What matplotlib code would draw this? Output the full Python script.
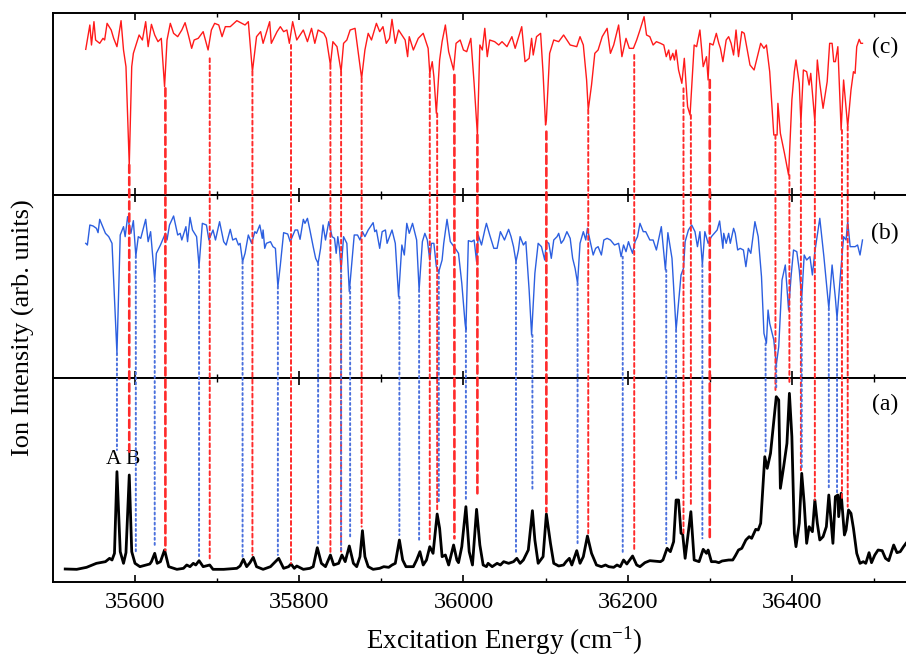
import numpy as np
import matplotlib
matplotlib.use("Agg")
import matplotlib.pyplot as plt
from matplotlib.patches import ConnectionPatch

plt.rcParams['font.family'] = ['Liberation Serif', 'DejaVu Serif']
plt.rcParams['mathtext.fontset'] = 'custom'
plt.rcParams['mathtext.rm'] = 'Liberation Serif'
plt.rcParams['mathtext.it'] = 'Liberation Serif:italic'

# ---------------- data: trace (c), red ----------------
c_energy = [35540, 35545, 35547, 35550, 35552, 35557, 35561, 35563, 35566, 35571, 35574, 35578, 35583, 35586, 35589,
            35593, 35596, 35598, 35605, 35609, 35613, 35616, 35620, 35624, 35628, 35632, 35636, 35639, 35643, 35647,
            35652, 35657, 35661, 35665, 35669, 35672, 35677, 35683, 35689, 35693, 35697, 35702, 35706, 35710, 35716,
            35724, 35730, 35734, 35738, 35743, 35748, 35753, 35756, 35764, 35766, 35773, 35777, 35781, 35785, 35788,
            35792, 35797, 35805, 35810, 35815, 35819, 35823, 35830, 35833, 35838, 35841, 35846, 35851, 35854, 35858,
            35862, 35868, 35876, 35880, 35884, 35888, 35894, 35898, 35902, 35906, 35910, 35913, 35917, 35921, 35929,
            35932, 35934, 35939, 35945, 35951, 35957, 35959, 35962, 35964, 35967, 35971, 35974, 35978, 35982, 35988,
            35991, 35996, 36000, 36004, 36009, 36013, 36017, 36020, 36023, 36026, 36029, 36032, 36038, 36043, 36047,
            36053, 36059, 36063, 36071, 36075, 36080, 36083, 36085, 36089, 36094, 36097, 36100, 36101, 36105, 36110,
            36116, 36122, 36130, 36138, 36142, 36146, 36150, 36152, 36156, 36160, 36164, 36169, 36175, 36179, 36183,
            36189, 36193, 36198, 36202, 36207, 36211, 36215, 36220, 36223, 36227, 36231, 36235, 36240, 36244, 36247,
            36250, 36252, 36255, 36257, 36259, 36262, 36266, 36269, 36273, 36276, 36281, 36284, 36288, 36292, 36296,
            36298, 36300, 36304, 36308, 36311, 36313, 36316, 36320, 36323, 36326, 36329, 36332, 36335, 36339, 36342,
            36349, 36354, 36357, 36362, 36366, 36369, 36373, 36378, 36382, 36383, 36386, 36391, 36396, 36400, 36403,
            36405, 36409, 36411, 36414, 36418, 36421, 36423, 36428, 36431, 36434, 36438, 36443, 36446, 36449, 36451,
            36453, 36456, 36460, 36463, 36468, 36472, 36475, 36477, 36479, 36482, 36484, 36486]
c_signal = [437, 510, 450, 520, 465, 455, 470, 465, 515, 495, 470, 445, 523, 435, 385,
            90, 385, 425, 480, 465, 520, 445, 512, 480, 460, 470, 325, 465, 515, 485,
            475, 495, 517, 480, 440, 465, 470, 490, 435, 495, 515, 510, 475, 505, 505,
            523, 515, 510, 520, 370, 475, 490, 455, 520, 455, 490, 505, 490, 495, 455,
            520, 465, 495, 460, 500, 455, 495, 485, 470, 390, 460, 445, 370, 455, 465,
            495, 500, 350, 435, 485, 465, 515, 490, 505, 455, 470, 527, 455, 495, 465,
            415, 475, 435, 470, 485, 440, 365, 400, 355, 245, 405, 460, 510, 430, 375,
            455, 465, 435, 430, 470, 335, 180, 450, 435, 500, 415, 465, 460, 450, 460,
            445, 475, 440, 505, 400, 410, 470, 420, 475, 485, 365, 210, 225, 425, 465,
            460, 480, 450, 445, 475, 450, 345, 255, 330, 425, 435, 475, 500, 425, 450,
            510, 415, 470, 440, 440, 465, 495, 535, 480, 475, 450, 460, 455, 450, 415,
            435, 405, 425, 405, 435, 375, 335, 410, 265, 240, 450, 445, 495, 385, 415,
            345, 455, 450, 485, 455, 440, 400, 465, 475, 455, 420, 495, 415, 490, 485,
            390, 375, 405, 455, 440, 450, 370, 180, 180, 275, 185, 125, 60, 285, 370,
            405, 335, 215, 375, 370, 330, 365, 220, 405, 335, 260, 340, 455, 455, 400,
            400, 445, 195, 345, 205, 315, 370, 365, 445, 467, 455, 455]

# ---------------- data: trace (b), blue ----------------
b_energy = [35540, 35542, 35545, 35549, 35553, 35555, 35557, 35564, 35568, 35572, 35578, 35582, 35586, 35588, 35591,
            35595, 35598, 35601, 35604, 35607, 35613, 35616, 35619, 35624, 35626, 35631, 35637, 35639, 35642, 35647,
            35652, 35655, 35657, 35662, 35664, 35667, 35670, 35675, 35678, 35682, 35687, 35690, 35695, 35698, 35703,
            35708, 35711, 35716, 35719, 35723, 35726, 35728, 35731, 35734, 35738, 35742, 35746, 35748, 35752, 35755,
            35756, 35758, 35760, 35765, 35768, 35771, 35774, 35777, 35781, 35786, 35789, 35795, 35798, 35801, 35805,
            35807, 35810, 35813, 35817, 35820, 35823, 35826, 35829, 35832, 35836, 35840, 35843, 35845, 35847, 35849,
            35851, 35854, 35858, 35861, 35867, 35871, 35874, 35877, 35880, 35884, 35890, 35892, 35894, 35898, 35901,
            35905, 35907, 35913, 35917, 35921, 35925, 35928, 35931, 35934, 35938, 35943, 35946, 35950, 35953, 35956,
            35959, 35961, 35964, 35967, 35970, 35974, 35976, 35980, 35984, 35990, 35994, 35998, 36002, 36003, 36006,
            36010, 36013, 36016, 36018, 36022, 36026, 36028, 36032, 36037, 36041, 36045, 36050, 36055, 36058, 36061,
            36064, 36067, 36069, 36073, 36076, 36080, 36083, 36087, 36091, 36095, 36099, 36101, 36104, 36107, 36110,
            36114, 36116, 36119, 36122, 36126, 36130, 36133, 36136, 36139, 36142, 36146, 36149, 36151, 36154, 36158,
            36161, 36164, 36168, 36171, 36175, 36179, 36184, 36189, 36192, 36195, 36198, 36201, 36203, 36206, 36209,
            36212, 36215, 36219, 36222, 36227, 36231, 36235, 36241, 36246, 36249, 36254, 36259, 36265, 36268, 36270,
            36274, 36278, 36282, 36285, 36288, 36291, 36294, 36298, 36302, 36309, 36312, 36316, 36317, 36320, 36323,
            36325, 36329, 36331, 36334, 36337, 36341, 36344, 36347, 36350, 36355, 36359, 36363, 36366, 36369, 36371,
            36373, 36378, 36381, 36384, 36388, 36392, 36396, 36399, 36402, 36406, 36409, 36412, 36415, 36418, 36422,
            36425, 36428, 36434, 36439, 36445, 36449, 36453, 36455, 36459, 36463, 36466, 36468, 36471, 36477, 36480,
            36483, 36486]
b_signal = [404, 399, 459, 456, 449, 436, 476, 434, 424, 404, 74, 429, 454, 424, 484,
            434, 472, 366, 424, 419, 476, 409, 439, 294, 374, 399, 434, 414, 459, 486,
            429, 434, 414, 454, 409, 482, 444, 424, 336, 464, 459, 414, 444, 414, 469,
            409, 399, 446, 414, 419, 399, 404, 349, 374, 429, 404, 439, 434, 459, 419,
            444, 389, 404, 409, 394, 389, 274, 339, 436, 432, 409, 444, 444, 416, 476,
            464, 479, 444, 394, 359, 344, 389, 459, 414, 469, 424, 419, 374, 424, 389,
            324, 424, 404, 259, 429, 429, 414, 439, 424, 444, 466, 439, 444, 389, 439,
            444, 404, 444, 404, 244, 399, 369, 464, 434, 464, 414, 264, 409, 434, 414,
            354, 404, 404, 334, 319, 354, 404, 476, 409, 389, 374, 284, 164, 144, 412,
            409, 414, 349, 429, 399, 444, 464, 429, 389, 389, 439, 414, 446, 424, 394,
            349, 384, 424, 399, 409, 264, 129, 314, 404, 394, 354, 409, 404, 359, 414,
            424, 434, 404, 414, 439, 419, 359, 329, 284, 404, 439, 414, 449, 414, 369,
            389, 394, 369, 414, 419, 414, 399, 404, 364, 399, 379, 409, 394, 374, 409,
            424, 464, 439, 439, 414, 414, 384, 454, 324, 436, 359, 144, 309, 329, 409,
            444, 459, 439, 394, 439, 339, 439, 404, 424, 444, 471, 389, 434, 404, 434,
            404, 449, 434, 384, 389, 384, 334, 389, 374, 469, 424, 304, 134, 104, 204,
            164, 114, 39, 94, 294, 339, 204, 304, 384, 379, 324, 239, 369, 354, 364,
            309, 379, 479, 364, 209, 339, 239, 179, 304, 424, 414, 469, 394, 394, 399,
            369, 414]

# ---------------- data: trace (a), black ----------------
a_energy = [35515, 35529, 35541, 35553, 35564, 35569, 35572, 35575, 35578, 35582, 35586, 35589, 35593, 35596, 35600,
            35606, 35618, 35620, 35624, 35627, 35631, 35636, 35641, 35651, 35659, 35663, 35667, 35671, 35674, 35678,
            35683, 35691, 35695, 35708, 35724, 35728, 35732, 35736, 35740, 35744, 35748, 35756, 35765, 35769, 35775,
            35781, 35787, 35790, 35794, 35797, 35805, 35813, 35817, 35822, 35827, 35832, 35838, 35842, 35848, 35852,
            35856, 35861, 35866, 35870, 35874, 35877, 35880, 35884, 35890, 35898, 35903, 35909, 35913, 35917, 35922,
            35926, 35930, 35939, 35943, 35947, 35951, 35955, 35959, 35963, 35968, 35971, 35974, 35978, 35982, 35988,
            35992, 35994, 35998, 36003, 36007, 36011, 36016, 36020, 36024, 36028, 36030, 36035, 36041, 36045, 36049,
            36055, 36061, 36065, 36069, 36073, 36079, 36084, 36087, 36091, 36097, 36101, 36106, 36110, 36116, 36122,
            36125, 36129, 36132, 36138, 36142, 36146, 36151, 36156, 36162, 36168, 36173, 36177, 36183, 36187, 36191,
            36195, 36199, 36206, 36211, 36215, 36221, 36227, 36240, 36243, 36248, 36252, 36256, 36259, 36262, 36265,
            36267, 36270, 36277, 36281, 36287, 36292, 36296, 36298, 36302, 36307, 36311, 36315, 36323, 36328, 36331,
            36335, 36339, 36344, 36348, 36351, 36356, 36359, 36362, 36367, 36370, 36374, 36381, 36384, 36386, 36390,
            36394, 36397, 36400, 36403, 36405, 36409, 36412, 36415, 36418, 36421, 36425, 36428, 36431, 36434, 36438,
            36442, 36445, 36450, 36453, 36456, 36457, 36460, 36464, 36466, 36469, 36472, 36475, 36479, 36483, 36487,
            36490, 36494, 36497, 36501, 36505, 36510, 36514, 36518, 36524, 36528, 36532, 36536, 36539]
a_signal = [39, 38, 44, 56, 61, 71, 66, 86, 331, 91, 56, 88, 321, 91, 56,
            46, 54, 61, 86, 56, 61, 96, 46, 38, 41, 51, 46, 56, 51, 64,
            46, 51, 38, 38, 41, 48, 68, 46, 58, 74, 46, 38, 46, 56, 71,
            41, 46, 54, 41, 48, 38, 41, 46, 103, 56, 46, 81, 51, 56, 81,
            61, 108, 56, 46, 76, 154, 76, 46, 38, 41, 46, 44, 51, 56, 126,
            66, 46, 46, 66, 91, 51, 66, 106, 86, 204, 161, 76, 81, 51, 111,
            66, 58, 106, 226, 91, 51, 218, 111, 51, 46, 56, 46, 56, 51, 61,
            56, 61, 71, 56, 66, 96, 214, 126, 56, 76, 204, 116, 56, 48, 51,
            61, 71, 51, 94, 56, 76, 138, 86, 51, 46, 51, 46, 44, 51, 46,
            66, 54, 78, 51, 46, 58, 64, 61, 66, 101, 91, 121, 246, 246, 146,
            144, 71, 211, 66, 61, 98, 86, 96, 61, 61, 58, 63, 66, 66, 78,
            96, 101, 126, 136, 131, 158, 156, 176, 376, 341, 386, 556, 546, 281, 346,
            416, 566, 436, 146, 106, 176, 326, 236, 116, 166, 151, 246, 176, 126, 136,
            166, 261, 116, 256, 261, 196, 266, 141, 156, 216, 206, 161, 86, 56, 61,
            56, 88, 58, 81, 96, 94, 71, 64, 111, 88, 91, 106, 116]

# ---------------- correlation lines ----------------
# red: dip in (c) -> peak in (a)
red_energy = [35593, 35637, 35691, 35743, 35790, 35838, 35851, 35876, 35959, 35968, 35989, 36017,
              36101, 36152, 36208, 36268, 36277, 36300, 36380, 36397, 36411, 36428, 36461, 36468]
red_top = [90, 320, 410, 370, 450, 390, 370, 350, 365, 245, 360, 180,
           190, 255, 420, 320, 240, 345, 180, 60, 215, 220, 195, 205]
red_bottom = [391, 96, 71, 81, 56, 90, 91, 166, 121, 216, 131, 266,
              211, 146, 96, 146, 231, 126, 576, 591, 326, 246, 246, 226]
red_bold = [1, 1, 0, 0, 0, 0, 0, 0, 0, 0, 1, 1,
            1, 0, 0, 0, 0, 1, 0, 0, 0, 0, 0, 0]

# blue: dip in (b) -> peak in (a)
blue_energy = [35578, 35601, 35624, 35678, 35731, 35774, 35823, 35851, 35862, 35922, 35946, 35970,
               36003, 36064, 36084, 36139, 36194, 36247, 36259, 36291, 36368, 36381, 36412, 36445, 36455]
blue_top = [74, 366, 294, 336, 349, 274, 344, 324, 274, 244, 264, 319,
            144, 349, 129, 284, 364, 324, 144, 339, 104, 39, 239, 209, 179]
blue_bottom = [396, 86, 111, 71, 76, 81, 116, 96, 136, 141, 121, 236,
               246, 86, 271, 116, 86, 116, 306, 131, 391, 576, 336, 276, 261]

panel_labels = ['(c)', '(b)', '(a)']
panel_label_y = [0.81, 0.79, 0.87]
peak_labels = ['A', 'B']
peak_label_energy = [35574, 35597]
peak_label_level = [338, 338]
x_ticks = [35600, 35800, 36000, 36200, 36400]

# ---------------- layout ----------------
W, H = 906, 656
fig = plt.figure(figsize=(W / 100, H / 100), dpi=100)
left = 52.9 / W
width = 1.0 - left
def box(top_px, bot_px):
    return [left, (H - bot_px) / H, width, (bot_px - top_px) / H]

ax_c = fig.add_axes(box(13, 195))
ax_b = fig.add_axes(box(195, 378))
ax_a = fig.add_axes(box(378, 582))

xlim = (35500, 36539)
ylims = {'c': (0, 546), 'b': (0, 549), 'a': (0, 612)}

for ax, key in ((ax_c, 'c'), (ax_b, 'b'), (ax_a, 'a')):
    ax.set_xlim(*xlim)
    ax.set_ylim(*ylims[key])
    ax.set_yticks([])
    ax.spines['right'].set_visible(False)
    for s in ('left', 'top', 'bottom'):
        ax.spines[s].set_linewidth(1.4)
    ax.set_xticks(x_ticks)
    ax.set_xticks([t + 100 for t in [35500] + x_ticks], minor=True)
    ax.tick_params(axis='x', which='major', direction='in', length=5, width=1.2,
                   top=True, bottom=True)
    ax.tick_params(axis='x', which='minor', direction='in', length=3, width=1.0,
                   top=True, bottom=True)
    if ax is not ax_a:
        ax.tick_params(axis='x', which='both', labelbottom=False)

ax_a.tick_params(axis='x', which='major', labelsize=17.5, pad=7)

ax_c.plot(c_energy, c_signal, color='#ff1a1a', lw=1.0)
ax_b.plot(b_energy, b_signal, color='#2c5fe0', lw=1.0)
ax_a.plot(a_energy, a_signal, color='black', lw=2.0)

for e, t, b, bold in zip(red_energy, red_top, red_bottom, red_bold):
    if bold:
        ls, lw = (0, (3.0, 1.6)), 1.9
    else:
        ls, lw = (0, (2.0, 1.6)), 1.4
    con = ConnectionPatch(xyA=(e, t), coordsA=ax_c.transData,
                          xyB=(e, b), coordsB=ax_a.transData,
                          color='#ff2a2a', lw=lw, linestyle=ls, zorder=3)
    fig.add_artist(con)

for e, t, b in zip(blue_energy, blue_top, blue_bottom):
    con = ConnectionPatch(xyA=(e, t), coordsA=ax_b.transData,
                          xyB=(e, b), coordsB=ax_a.transData,
                          color='#4a70dd', lw=1.4, linestyle=(0, (1.0, 1.6)), zorder=3)
    fig.add_artist(con)

for ax, lab, yy in zip((ax_c, ax_b, ax_a), panel_labels, panel_label_y):
    ax.text(0.975, yy, lab, transform=ax.transAxes,
            fontsize=17, ha='center', va='center')

for lab, e, v in zip(peak_labels, peak_label_energy, peak_label_level):
    ax_a.text(e, v, lab, fontsize=15.5, ha='center', va='bottom')

fig.text(0.556, 0.012, 'Excitation Energy (cm$^{-1}$)', fontsize=19.5, ha='center', va='baseline')
fig.text(0.026, 0.50, 'Ion Intensity (arb. units)', fontsize=19, rotation=90,
         ha='center', va='center')

fig.savefig('out.png', dpi=100)
